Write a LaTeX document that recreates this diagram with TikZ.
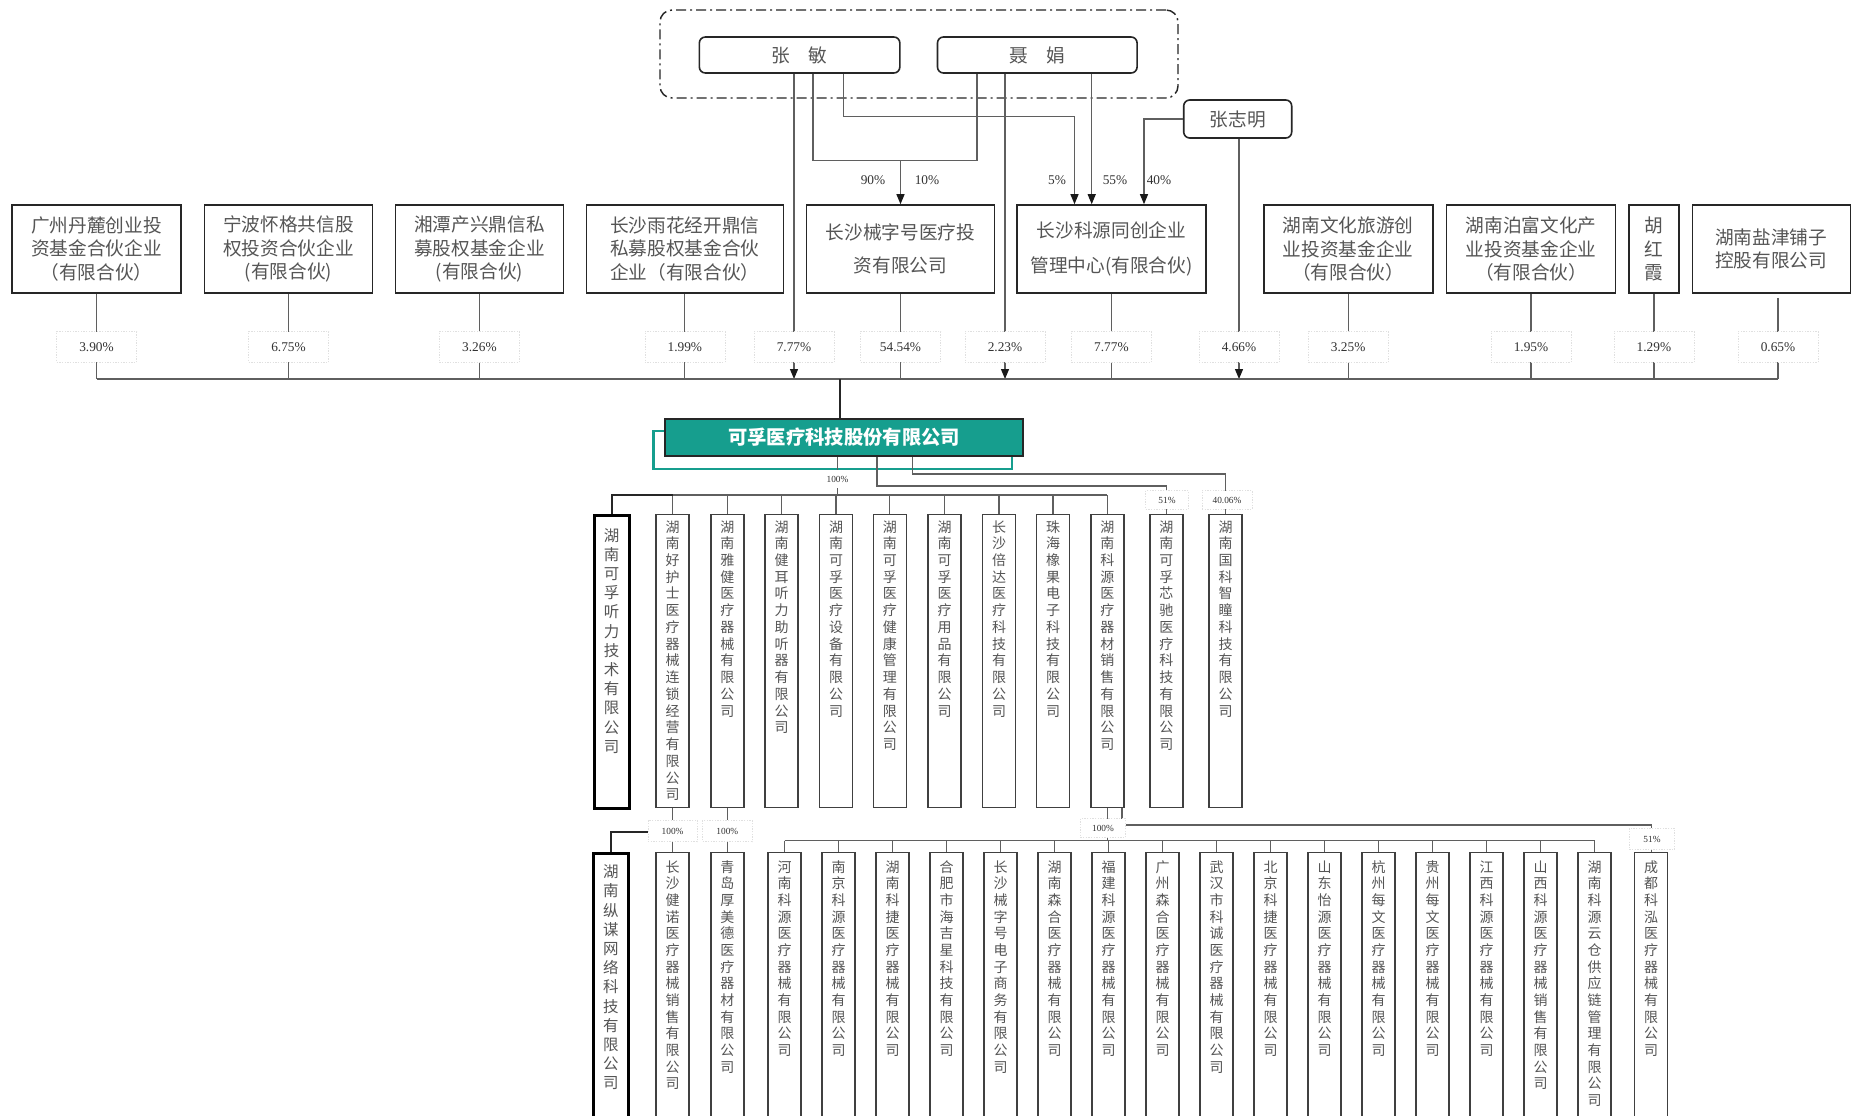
\documentclass[tikz,border=0pt]{standalone}
\usepackage{fontspec}
\setmainfont{Liberation Serif}
\newfontfamily\cjk{Noto Sans CJK SC}
\usetikzlibrary{arrows.meta}
\definecolor{tealA}{RGB}{22,158,142}
\definecolor{txt}{RGB}{85,85,85}
\definecolor{ln}{RGB}{95,95,95}
\newcommand\vchar[1]{\hbox to 1.2em{\hss#1\hss}}
\ExplSyntaxOn
\NewDocumentCommand\vtext{mm}{\vtop{\baselineskip=#1\relax\lineskiplimit=-100pt\relax\lineskip=0pt\relax\exp_args:No\tl_map_inline:nn{#2}{\vchar{##1}}}}
\ExplSyntaxOff
\begin{document}
\begin{tikzpicture}[x=0.75pt,y=-0.75pt,
  W/.style={minimum width=#1*0.75pt},
  H/.style={minimum height=#1*0.75pt},
  holder/.style={draw=black!85,line width=1.2pt,fill=white,minimum height=66pt,inner sep=0pt,align=center,text=txt,font=\cjk\fontsize{14pt}{17.7pt}\selectfont},
  person/.style={draw=black!85,line width=1.2pt,rounded corners=4.5pt,fill=white,minimum height=27pt,inner sep=0pt,text=txt,font=\cjk\fontsize{14pt}{17pt}\selectfont},
  conn/.style={draw=ln,line width=0.9pt},
  boldconn/.style={draw=black!85,line width=1.6pt},
  arr/.style={conn,-{Triangle[length=7.5pt,width=6pt,color=black!90]}},
  pct/.style={fill=white,draw=black!12,line width=0.4pt,dash pattern=on 1pt off 1pt,minimum width=60pt,minimum height=23pt,inner sep=0pt,text=black!80,font=\fontsize{10pt}{12pt}\selectfont},
  pcttop/.style={inner sep=0pt,text=black!80,font=\fontsize{10pt}{12pt}\selectfont},
  spct/.style={fill=white,draw=black!12,line width=0.4pt,dash pattern=on 1pt off 1pt,inner sep=1pt,minimum height=14pt,text=black!80,font=\fontsize{7pt}{8pt}\selectfont},
  sub/.style={draw=black!75,line width=1.1pt,fill=white,anchor=north,minimum width=24.75pt,inner sep=0pt},
  subt/.style={anchor=base,inner sep=0pt,text=txt,font=\cjk\fontsize{10.5pt}{12pt}\selectfont},
  bigsub/.style={draw=black,line width=2.2pt,fill=white,anchor=north,minimum width=26pt,inner sep=0pt},
  bigsubt/.style={anchor=base,inner sep=0pt,text=txt,font=\cjk\fontsize{11.6pt}{13pt}\selectfont},
]
\useasboundingbox (0,0) rectangle (1853,1116);
\clip (0,0) rectangle (1853,1116);
\fill[white] (0,0) rectangle (1853,1116);

% group of controllers
\node[draw=black!85,line width=1.1pt,rounded corners=9pt,dash pattern=on 7.5pt off 3pt on 1.5pt off 3pt,W=518,H=88,inner sep=0pt] (grp) at (919,54) {};
\node[person,W=200.5] (zm) at (799.6,55) {张\hspace{1em}敏};
\node[person,W=199.6] (nj) at (1037.3,55) {聂\hspace{1em}娟};
\node[person,W=108,H=38] (zzm) at (1237.7,119) {张志明};

% shareholders
\node[holder,W=169] (s1) at (96.5,249) {广州丹麓创业投\\资基金合伙企业\\（有限合伙）};
\node[holder,W=168] (s2) at (288.5,249) {宁波怀格共信股\\权投资合伙企业\\(有限合伙)};
\node[holder,W=168] (s3) at (479.4,249) {湘潭产兴鼎信私\\募股权基金企业\\(有限合伙)};
\node[holder,W=197] (s4) at (684.8,249) {长沙雨花经开鼎信\\私募股权基金合伙\\企业（有限合伙）};
\node[holder,W=188,font=\cjk\fontsize{14pt}{25pt}\selectfont] (s5) at (900.5,249) {长沙械字号医疗投\\资有限公司};
\node[holder,W=189,font=\cjk\fontsize{14pt}{26pt}\selectfont] (s6) at (1111.4,249) {长沙科源同创企业\\管理中心(有限合伙)};
\node[holder,W=169] (s7) at (1348.2,249) {湖南文化旅游创\\业投资基金企业\\（有限合伙）};
\node[holder,W=169] (s8) at (1531,249) {湖南泊富文化产\\业投资基金企业\\（有限合伙）};
\node[holder,W=50] (s9) at (1653.9,249) {胡\\红\\霞};
\node[holder,W=158,font=\cjk\fontsize{14pt}{17pt}\selectfont] (s10) at (1771.3,249) {湖南盐津铺子\\控股有限公司};

% bus coordinates
\coordinate (busL) at (96.5,379);
\coordinate (busR) at (1778,379);
\coordinate (t1) at (794,379);
\coordinate (t2) at (1005,379);
\coordinate (t3) at (1239,379);
\coordinate (s10d) at (1778,298);
\coordinate (tm) at (840,379);

% connectors among controllers
\coordinate (k1) at (812.9,160.7);
\coordinate (k2) at (977,160.7);
\coordinate (k3) at (900.5,160.7);
\coordinate (k4) at (843.7,116.7);
\coordinate (k5) at (1074.5,116.7);
\coordinate (k6) at (1091.7,100);
\coordinate (k7) at (1144,121);
\draw[conn] (zm.south -| k1) -- (k1) -- (k2) -- (nj.south -| k2);
\draw[arr] (k3) -- (s5.north);
\draw[arr] (zm.south -| k4) -- (k4) -- (k5) -- (s6.north -| k5);
\draw[arr] (nj.south -| k6) -- (s6.north -| k6);
\draw[arr] (zzm.west) -| (s6.north -| k7);
\draw[arr] (zm.south -| t1) -- (t1);
\draw[arr] (nj.south -| t2) -- (t2);
\draw[arr] (zzm.south -| t3) -- (t3);

\node[pcttop] (l90) at (873,180) {90\%};
\node[pcttop] (l10) at (927,180) {10\%};
\node[pcttop] (l5) at (1057,180) {5\%};
\node[pcttop] (l55) at (1115,180) {55\%};
\node[pcttop] (l40) at (1159,180) {40\%};

% holder drops and bus
\draw[conn] (busL) -- (busR);
\foreach \s in {s1,s2,s3,s4,s5,s6,s7,s8,s9}{
  \draw[conn] (\s.south) -- (\s.south |- busL);
}
\draw[conn] (s10d) -- (busR);

\node[pct] (p1) at (96.5,347) {3.90\%};
\node[pct] (p2) at (288.5,347) {6.75\%};
\node[pct] (p3) at (479.4,347) {3.26\%};
\node[pct] (p4) at (684.8,347) {1.99\%};
\node[pct] (p5) at (794,347) {7.77\%};
\node[pct] (p6) at (900.5,347) {54.54\%};
\node[pct] (p7) at (1005,347) {2.23\%};
\node[pct] (p8) at (1111.4,347) {7.77\%};
\node[pct] (p9) at (1239,347) {4.66\%};
\node[pct] (p10) at (1348.2,347) {3.25\%};
\node[pct] (p11) at (1531,347) {1.95\%};
\node[pct] (p12) at (1653.9,347) {1.29\%};
\node[pct] (p13) at (1778,347) {0.65\%};

% main company
\node[draw=tealA,line width=1.6pt,W=358.5,H=38,inner sep=0pt] (mainsh) at (832.8,450) {};
\node[draw=black!85,line width=1.5pt,fill=tealA,W=358.5,H=37.5,inner sep=0pt,text=white,font=\cjk\bfseries\fontsize{14.5pt}{16pt}\selectfont] (main) at (844,437.5) {可孚医疗科技股份有限公司};
\draw[boldconn] (tm) -- (main.north -| tm);

% first level subsidiaries
\node[bigsub,H=293] (tl) at (611.7,514) {};
\node[bigsubt] (ttl) at (611.7,541) {\vtext{14.4pt}{湖南可孚听力技术有限公司}};
\foreach \nm/\x/\t in {
  b1/672.6/湖南好护士医疗器械连锁经营有限公司,
  b2/727.3/湖南雅健医疗器械有限公司,
  b3/781.5/湖南健耳听力助听器有限公司,
  b4/836/湖南可孚医疗设备有限公司,
  b5/889.8/湖南可孚医疗健康管理有限公司,
  b6/944.5/湖南可孚医疗用品有限公司,
  b7/999/长沙倍达医疗科技有限公司,
  b8/1053/珠海橡果电子科技有限公司,
  b9/1107.4/湖南科源医疗器材销售有限公司,
  b10/1166.3/湖南可孚芯驰医疗科技有限公司,
  b11/1225.7/湖南国科智瞳科技有限公司}{
  \node[sub,H=293] (\nm) at (\x,514) {};
  \node[subt] (t\nm) at (\x,532) {\vtext{12.55pt}{\t}};
}

\coordinate (m1) at (837.5,495);
\coordinate (m2) at (877,486);
\coordinate (m3) at (912.6,474);
\draw[conn] (main.south -| m1) -- (m1);
\draw[conn] (b1.north |- m1) -- (b9.north |- m1);
\foreach \b in {b1,b2,b3,b4,b5,b6,b7,b8,b9}{
  \draw[conn] (\b.north |- m1) -- (\b.north);
}
\draw[boldconn] (b1.north |- m1) -| (tl.north);
\draw[conn] (main.south -| m2) |- (b10.north |- m2) -- (b10.north);
\draw[conn] (main.south -| m3) |- (b11.north |- m3) -- (b11.north);
\node[spct,draw=none] (q0) at (837.5,479) {100\%};
\node[spct,minimum width=32pt] (q51) at (1167,500) {51\%};
\node[spct,minimum width=37.5pt] (q40) at (1227,500) {40.06\%};

% second level subsidiaries
\node[bigsub,H=290] (tz) at (610.8,852) {};
\node[bigsubt] (ttz) at (610.8,877.6) {\vtext{14.4pt}{湖南纵谋网络科技有限公司}};
\foreach \nm/\x/\t in {
  c1/672.6/长沙健诺医疗器械销售有限公司,
  c2/727.3/青岛厚美德医疗器材有限公司,
  c3/784.5/河南科源医疗器械有限公司,
  c4/838.5/南京科源医疗器械有限公司,
  c5/892.5/湖南科捷医疗器械有限公司,
  c6/946.5/合肥市海吉星科技有限公司,
  c7/1000.5/长沙械字号电子商务有限公司,
  c8/1054.5/湖南森合医疗器械有限公司,
  c9/1108.5/福建科源医疗器械有限公司,
  c10/1162.5/广州森合医疗器械有限公司,
  c11/1216.5/武汉市科诚医疗器械有限公司,
  c12/1270.5/北京科捷医疗器械有限公司,
  c13/1324.5/山东怡源医疗器械有限公司,
  c14/1378.5/杭州每文医疗器械有限公司,
  c15/1432.5/贵州每文医疗器械有限公司,
  c16/1486.5/江西科源医疗器械有限公司,
  c17/1540.5/山西科源医疗器械销售有限公司,
  c18/1594.5/湖南科源云仓供应链管理有限公司,
  c19/1651.2/成都科泓医疗器械有限公司}{
  \node[sub,H=290] (\nm) at (\x,852) {};
  \node[subt] (t\nm) at (\x,872) {\vtext{12.5pt}{\t}};
}

\coordinate (m4) at (672.6,832);
\coordinate (m5) at (0,840.5);
\coordinate (m6) at (1122,825);
\draw[conn] (b1.south) -- (c1.north);
\draw[conn] (b2.south) -- (c2.north);
\draw[boldconn] (m4) -| (tz.north);
\draw[conn] (c3.north |- m5) -- (c18.north |- m5);
\foreach \c in {c3,c4,c5,c6,c7,c8,c9,c10,c11,c12,c13,c14,c15,c16,c17,c18}{
  \draw[conn] (\c.north |- m5) -- (\c.north);
}
\draw[conn] (b9.south) -- (b9.south |- m5);
\draw[conn] (b9.south -| m6) -- (m6) -| (c19.north);
\node[spct,minimum width=37pt,minimum height=16pt] (q1) at (672.6,831) {100\%};
\node[spct,minimum width=37pt,minimum height=16pt] (q2) at (727.3,831) {100\%};
\node[spct,minimum width=34pt,minimum height=14pt] (q9) at (1103,828) {100\%};
\node[spct,minimum width=34pt,minimum height=16pt] (q19) at (1652,839) {51\%};
\end{tikzpicture}
\end{document}
